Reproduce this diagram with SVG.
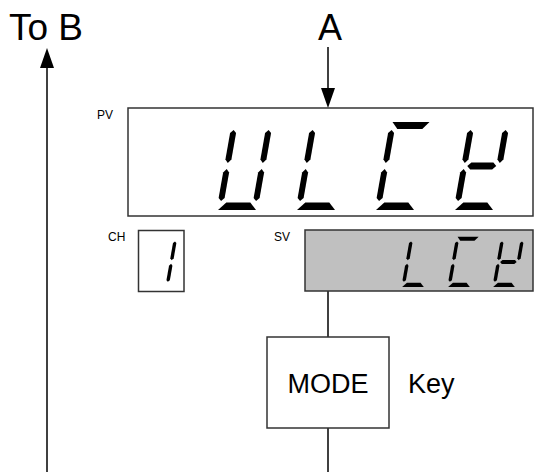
<svg xmlns="http://www.w3.org/2000/svg" width="535" height="472" viewBox="0 0 535 472">
<style>
.lbl{font-family:"Liberation Sans",Arial,sans-serif;fill:#000}
.box{stroke:#333;stroke-width:1.5}
.ln{stroke:#000;stroke-width:1.5;fill:none}
.seg{fill:#000}
</style>
<defs>
<polygon id="sa" points="3,-88 40,-88 34,-81 9,-81"/>
<polygon id="sg" points="6.5,-44 10,-47.5 32,-47.5 35.5,-44 32,-40.5 10,-40.5"/>
<polygon id="sd" points="9,-7.5 33,-7.5 40,0 2,0"/>
<polygon id="sf" points="3.5,-80 6.5,-77 6.5,-50.5 3.5,-47 0.5,-50.5 0.5,-77"/>
<polygon id="se" points="3.5,-41 6.5,-37.5 6.5,-12 3.5,-9 0.5,-12 0.5,-37.5"/>
<polygon id="sb" points="38.5,-80 41.5,-77 41.5,-50.5 38.5,-47 35.5,-50.5 35.5,-77"/>
<polygon id="sc" points="38.5,-41 41.5,-37.5 41.5,-12 38.5,-9 35.5,-12 35.5,-37.5"/>
<g id="dL"><use href="#sf"/><use href="#se"/><use href="#sd"/></g>
<g id="dC"><use href="#sa"/><use href="#sf"/><use href="#se"/><use href="#sd"/></g>
<g id="dY"><use href="#sf"/><use href="#sb"/><use href="#sg"/><use href="#se"/><use href="#sd"/></g>
<g id="dU"><use href="#sf"/><use href="#sb"/><use href="#se"/><use href="#sc"/><use href="#sd"/></g>
<g id="d1"><use href="#sb"/><use href="#sc"/></g>
</defs>

<g id="connectors">
<line class="ln" x1="328" y1="47" x2="328" y2="90"/>
<polygon points="321,88 335,88 328,108" fill="#000"/>
<line class="ln" x1="47" y1="66" x2="47" y2="472"/>
<polygon points="40,68 54,68 47,48" fill="#000"/>
<line class="ln" x1="328" y1="291" x2="328" y2="337"/>
<line class="ln" x1="328" y1="428" x2="328" y2="472"/>
</g>

<g id="labelA"><text class="lbl" x="330" y="40" font-size="36" text-anchor="middle">A</text></g>
<g id="labelToB"><text class="lbl" x="9" y="40" font-size="37">To B</text></g>

<g id="pv">
<text class="lbl" x="97" y="119" font-size="12">PV</text>
<rect class="box" x="128" y="108" width="405" height="108" fill="#fff"/>
<g class="seg">
<use href="#dU" transform="translate(216,210) skewX(-10)"/>
<use href="#dL" transform="translate(295,210) skewX(-10)"/>
<use href="#dC" transform="translate(374,210) skewX(-10)"/>
<use href="#dY" transform="translate(453,210) skewX(-10)"/>
</g>
</g>

<g id="ch">
<text class="lbl" x="108" y="241" font-size="12">CH</text>
<rect class="box" x="138.5" y="230.5" width="45.5" height="61" fill="#fff"/>
<use href="#d1" transform="translate(145,287) scale(0.57) skewX(-10)"/>
</g>

<g id="sv">
<text class="lbl" x="274" y="241" font-size="12">SV</text>
<rect class="box" x="305" y="230" width="228" height="61" fill="#c0c0c0"/>
<use href="#dL" transform="translate(401,287) scale(0.57) skewX(-10)"/>
<use href="#dC" transform="translate(447,287) scale(0.57) skewX(-10)"/>
<use href="#dY" transform="translate(492,287) scale(0.57) skewX(-10)"/>
</g>

<g id="mode">
<rect class="box" x="267" y="337" width="122" height="91" fill="#fff"/>
<text class="lbl" x="328" y="393" font-size="27" text-anchor="middle">MODE</text>
</g>
<g id="key"><text class="lbl" x="408" y="393" font-size="27">Key</text></g>
</svg>
